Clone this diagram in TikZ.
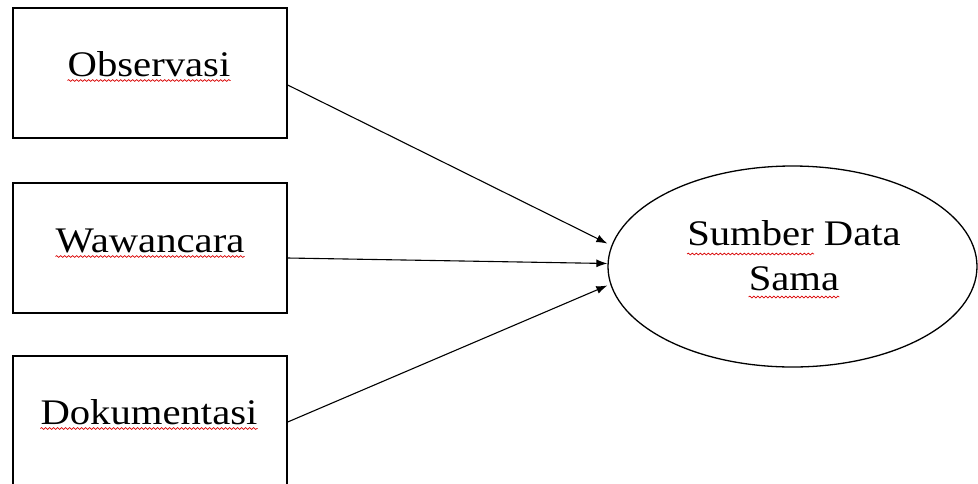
\documentclass[tikz,border=0pt]{standalone}
\usepackage{fontspec}
\setmainfont{Liberation Serif}[FakeStretch=1.13]
\usetikzlibrary{arrows.meta}
\usetikzlibrary{shapes.geometric}
\usetikzlibrary{decorations.pathmorphing}

\begin{document}
\begin{tikzpicture}[x=1pt,y=1pt,yscale=-1,xscale=1,
  box/.style={draw, line width=1.4pt, minimum width=274pt, minimum height=130pt, inner sep=0pt},
  word/.style={inner sep=0pt, anchor=base, font=\fontsize{36}{40}\selectfont},
  squig/.style={draw=red!85!black, line width=0.7pt, decorate, decoration={snake, segment length=4pt, amplitude=0.9pt}},
  link/.style={line width=1.1pt, -{Latex[length=11pt,width=8pt]}}]
\useasboundingbox (0,0) rectangle (978,483);
\clip (0,0) rectangle (978,483);

% Boxes
\node [box] (obs) at (150,73) {};
\node [box] (waw) at (150,248) {};
\node [box] (dok) at (150,421) {};
% Ellipse
\node [draw, ellipse, line width=1.3pt, minimum width=369pt, minimum height=201pt, inner sep=0pt] (src) at (792.5,266.5) {};

% Text Nodes
\node [word] (obstext) at (149,76) {Observasi};
\node [word] (wawtext) at (150,252) {Wawancara};
\node [word] (doktext) at (149,424) {Dokumentasi};
\node [word] (srctop) at (794,245) {Sumber Data};
\node [word] (srcbot) at (794,290) {Sama};

% Spelling marks (yscale=-1: positive yshift goes down)
\draw [squig] ([yshift=4.5pt]obstext.base west) -- ([yshift=4.5pt]obstext.base east);
\draw [squig] ([yshift=4.5pt]wawtext.base west) -- ([yshift=4.5pt]wawtext.base east);
\draw [squig] ([yshift=4.5pt]doktext.base west) -- ([yshift=4.5pt]doktext.base east);
\draw [squig] ([yshift=9pt]srctop.base west) -- ([yshift=9pt,xshift=127pt]srctop.base west);
\draw [squig] ([yshift=7pt]srcbot.base west) -- ([yshift=7pt]srcbot.base east);

% Arrows
\draw [link] ([yshift=12pt]obs.east) -- ([yshift=-23pt]src.west);
\draw [link] ([yshift=10pt]waw.east) -- ([yshift=-3pt]src.west);
\draw [link] ([yshift=1pt]dok.east) -- ([yshift=19pt]src.west);

\end{tikzpicture}
\end{document}
